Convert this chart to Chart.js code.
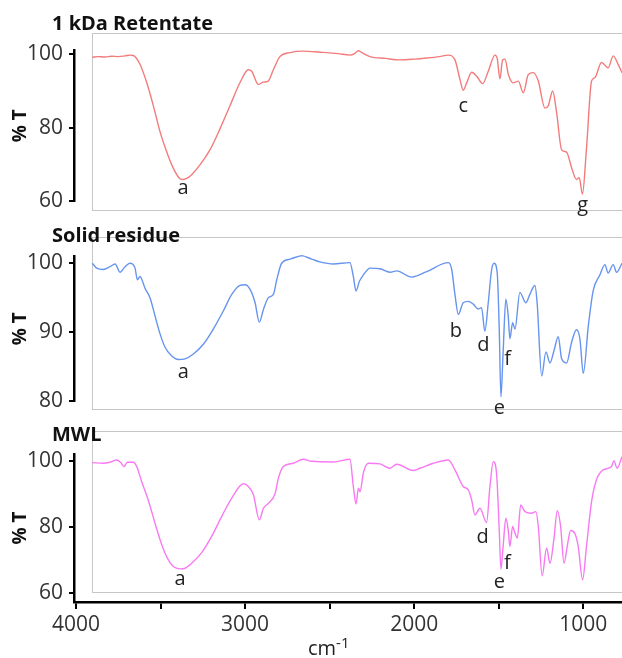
<!DOCTYPE html>
<html>
<head>
<meta charset="utf-8">
<script src="https://cdn.jsdelivr.net/npm/chart.js@4.4.1/dist/chart.umd.min.js"></script>
<style>
  html, body { margin: 0; padding: 0; background: #fff; overflow: hidden; }
  #wrap { position: relative; width: 622px; height: 658px; overflow: hidden; font-family: "Open Sans", sans-serif; }
  canvas { position: absolute; left: 0; }
  .ttl { position: absolute; left: 52px; font-weight: bold; font-size: 20px; line-height: 20px; color: #111; z-index: 2; white-space: nowrap; }
  .unit { position: absolute; left: 308px; top: 638px; font-size: 20px; line-height: 20px; color: #222; z-index: 2; }
  .unit sup { font-size: 15px; line-height: 0; vertical-align: 7px; }
</style>
</head>
<body>
<div id="wrap">
  <canvas id="c1" width="622" height="220" style="top:0"></canvas>
  <canvas id="c2" width="622" height="200" style="top:220px"></canvas>
  <canvas id="c3" width="622" height="238" style="top:420px"></canvas>
  <div class="ttl" style="top:13px">1 kDa Retentate</div>
  <div class="ttl" style="top:225px">Solid residue</div>
  <div class="ttl" style="top:424px">MWL</div>
  <div class="unit">cm<sup>-1</sup></div>
</div>
<script>
// wavenumbers (cm-1) and transmittance (%T)
const retentateWn = [3904, 3870, 3830, 3790, 3750, 3710, 3680, 3661, 3622, 3582, 3543, 3503, 3464, 3425, 3385, 3366, 3346, 3326, 3267, 3208, 3148, 3089, 3030, 2981, 2961, 2922, 2892, 2863, 2833, 2794, 2734, 2656, 2557, 2450, 2380, 2350, 2330, 2310, 2261, 2170, 2084, 2000, 1926, 1850, 1798, 1759, 1729, 1710, 1690, 1660, 1630, 1595, 1562, 1522, 1509, 1493, 1477, 1463, 1443, 1414, 1384, 1355, 1325, 1296, 1266, 1227, 1207, 1181, 1158, 1128, 1099, 1069, 1040, 1024, 1005, 981, 951, 932, 892, 853, 823, 793, 771];
const retentateT = [99.2, 99.4, 99.3, 99.5, 99.4, 99.6, 99.8, 99.7, 97.3, 92.3, 86.0, 78.8, 73.4, 68.9, 66.0, 65.8, 66.1, 66.7, 69.8, 73.9, 79.7, 86.0, 92.3, 95.8, 95.4, 91.8, 92.4, 92.7, 95.8, 99.4, 100.5, 100.9, 100.6, 100.2, 99.8, 100.3, 101.0, 100.5, 99.4, 98.9, 98.5, 98.7, 99.0, 99.4, 99.8, 98.5, 93.1, 90.2, 92.2, 95.1, 94.0, 92.0, 95.4, 99.8, 98.9, 93.3, 98.5, 98.7, 94.5, 92.2, 92.7, 89.5, 94.5, 95.0, 92.7, 85.3, 86.0, 90.0, 84.2, 73.9, 73.3, 69.0, 65.8, 66.3, 61.8, 74.3, 92.7, 93.6, 97.8, 96.3, 99.6, 97.2, 95.0];

const residueWn = [3904, 3878, 3839, 3799, 3769, 3740, 3710, 3681, 3651, 3637, 3622, 3592, 3562, 3533, 3503, 3474, 3434, 3395, 3355, 3306, 3247, 3188, 3129, 3079, 3030, 3000, 2970, 2941, 2916, 2892, 2863, 2833, 2813, 2784, 2734, 2665, 2606, 2557, 2478, 2380, 2360, 2344, 2324, 2301, 2261, 2202, 2143, 2104, 2015, 1926, 1798, 1778, 1759, 1739, 1710, 1680, 1651, 1621, 1602, 1582, 1562, 1542, 1527, 1509, 1497, 1487, 1474, 1458, 1444, 1434, 1418, 1404, 1375, 1340, 1316, 1286, 1273, 1246, 1221, 1197, 1173, 1148, 1128, 1099, 1069, 1040, 1020, 1000, 970, 941, 902, 872, 853, 823, 803, 771];
const residueT = [99.9, 99.2, 99.0, 99.4, 99.8, 98.6, 99.4, 99.9, 99.2, 97.5, 98.0, 96.3, 94.9, 92.3, 89.7, 87.8, 86.5, 86.0, 86.1, 86.8, 88.2, 90.4, 93.0, 95.4, 96.7, 96.8, 96.1, 94.2, 91.4, 93.2, 94.9, 95.4, 97.5, 99.9, 100.5, 101.0, 100.5, 100.1, 99.8, 100.0, 98.0, 95.9, 97.3, 98.2, 99.2, 99.1, 98.6, 98.8, 97.9, 98.7, 100.0, 99.0, 95.4, 92.5, 94.2, 94.4, 94.0, 93.3, 93.5, 90.1, 94.2, 99.0, 99.9, 98.5, 90.4, 80.6, 87.1, 94.7, 92.3, 89.0, 91.3, 90.4, 95.7, 94.2, 95.4, 96.7, 94.2, 83.6, 87.1, 85.5, 87.3, 89.3, 86.1, 85.5, 88.5, 90.3, 89.0, 84.0, 90.9, 96.0, 98.2, 99.7, 98.5, 99.7, 98.6, 99.9];

const mwlWn = [3904, 3839, 3799, 3759, 3736, 3716, 3697, 3661, 3641, 3612, 3573, 3533, 3493, 3454, 3425, 3385, 3355, 3316, 3257, 3198, 3139, 3079, 3010, 2981, 2951, 2916, 2892, 2863, 2823, 2803, 2774, 2715, 2656, 2606, 2478, 2380, 2360, 2344, 2330, 2320, 2301, 2271, 2202, 2143, 2104, 2005, 1966, 1887, 1798, 1759, 1710, 1680, 1660, 1641, 1611, 1572, 1552, 1532, 1513, 1497, 1487, 1474, 1458, 1444, 1434, 1418, 1404, 1390, 1370, 1345, 1305, 1280, 1266, 1243, 1217, 1197, 1173, 1154, 1134, 1114, 1095, 1075, 1049, 1030, 1004, 981, 951, 922, 882, 833, 819, 800, 771];
const mwlT = [99.4, 99.2, 99.5, 100.2, 99.4, 98.2, 99.5, 99.5, 98.2, 93.7, 88.1, 81.1, 74.6, 70.0, 68.0, 67.3, 67.5, 69.0, 72.2, 77.1, 83.1, 88.7, 93.0, 92.2, 89.7, 82.1, 85.6, 87.1, 90.0, 94.7, 98.2, 99.2, 100.4, 99.8, 99.6, 100.4, 92.2, 86.9, 91.7, 90.6, 96.2, 99.2, 99.0, 97.7, 98.9, 97.0, 97.7, 99.2, 100.2, 97.2, 92.2, 91.2, 88.1, 83.6, 85.6, 81.3, 92.2, 99.7, 96.2, 79.1, 67.2, 74.1, 82.6, 79.1, 74.1, 80.1, 78.1, 76.6, 86.6, 84.6, 84.1, 84.6, 80.1, 65.2, 73.6, 69.0, 76.6, 84.9, 80.1, 69.0, 74.1, 78.9, 77.9, 74.1, 64.0, 74.1, 87.6, 94.2, 97.2, 98.2, 100.0, 97.7, 101.2];

// tick values
const xTicks = [1000, 1500, 2000, 2500, 3000, 3500, 4000];
const retentateTicks = [60, 80, 100];
const residueTicks = [80, 90, 100];
const mwlTicks = [60, 80, 100];

// band labels: letter, wavenumber, %T where the letter sits
const retentateNoteLabels = ['a', 'c', 'g'];
const retentateNoteWn = [3367, 1710, 1004];
const retentateNoteT = [63.4, 85.9, 58.7];
const residueNoteLabels = ['a', 'b', 'd', 'f', 'e'];
const residueNoteWn = [3365, 1753, 1591, 1447, 1497];
const residueNoteT = [84.2, 90.1, 88.1, 86.0, 79.0];
const mwlNoteLabels = ['a', 'd', 'f', 'e'];
const mwlNoteWn = [3385, 1595, 1449, 1497];
const mwlNoteT = [64.2, 76.9, 69.0, 63.2];

const FONT = '"Open Sans", sans-serif';

// light grey frame around each spectrum, placed through the scales
const frameBox = {
  id: 'frameBox',
  beforeDatasetsDraw(chart, args, opts) {
    const xs = chart.scales.x, ys = chart.scales.y;
    const ctx = chart.ctx;
    const l = Math.round(xs.getPixelForValue(opts.left)) + 0.5;
    const t = Math.round(ys.getPixelForValue(opts.top)) + 0.5;
    const b = Math.round(ys.getPixelForValue(opts.bottom)) + 0.5;
    ctx.save();
    ctx.strokeStyle = '#c6c6c6';
    ctx.lineWidth = 1;
    ctx.strokeRect(l, t, chart.width - l + 10, b - t);
    ctx.restore();
  }
};

const peakNotes = {
  id: 'peakNotes',
  afterDatasetsDraw(chart, args, opts) {
    const xs = chart.scales.x, ys = chart.scales.y;
    const ctx = chart.ctx;
    ctx.save();
    ctx.font = '20px ' + FONT;
    ctx.fillStyle = '#222';
    ctx.textAlign = 'center';
    ctx.textBaseline = 'middle';
    opts.labels.forEach((lab, i) => {
      ctx.fillText(lab, xs.getPixelForValue(opts.wn[i]), ys.getPixelForValue(opts.t[i]));
    });
    ctx.restore();
  }
};

function makePanel(id, wn, t, color, yMin, yMax, yTicks, pad, frame, notes, showX) {
  const pts = wn.map((w, i) => ({ x: w, y: t[i] }));
  return new Chart(document.getElementById(id), {
    type: 'line',
    data: {
      datasets: [{
        data: pts,
        borderColor: color,
        borderWidth: 1.4,
        pointRadius: 0,
        cubicInterpolationMode: 'monotone',
        clip: false
      }]
    },
    options: {
      responsive: false,
      animation: false,
      layout: { padding: { top: pad[0], bottom: pad[1], left: 0, right: 0 } },
      plugins: {
        legend: { display: false },
        tooltip: { enabled: false },
        frameBox: frame,
        peakNotes: notes
      },
      scales: {
        x: {
          type: 'linear',
          reverse: true,
          min: 771,
          max: 4012,
          display: showX,
          afterBuildTicks: s => { s.ticks = xTicks.map(v => ({ value: v })); },
          afterFit: s => { if (showX) s.height = 56; },
          grid: { drawOnChartArea: false, color: '#000', lineWidth: 2, tickLength: 7 },
          border: { color: '#000', width: 2.5 },
          ticks: {
            autoSkip: false,
            maxRotation: 0,
            padding: 3,
            color: '#333',
            font: { family: FONT, size: 21 },
            callback: v => (v % 1000 === 0 ? String(v) : '')
          }
        },
        y: {
          min: yMin,
          max: yMax,
          afterBuildTicks: s => { s.ticks = yTicks.map(v => ({ value: v })); },
          afterFit: s => { s.width = 74; },
          grid: { drawOnChartArea: false, color: '#000', lineWidth: 2, tickLength: 5 },
          border: { color: '#000', width: 2.5 },
          ticks: { padding: 6, color: '#333', font: { family: FONT, size: 21 } },
          title: {
            display: true,
            text: '% T',
            color: '#111',
            padding: { top: 9, bottom: 0 },
            font: { family: FONT, size: 19, weight: 'bold' }
          }
        }
      }
    },
    plugins: [frameBox, peakNotes]
  });
}

makePanel('c1', retentateWn, retentateT, '#f27c7c', 59.8, 101.2, retentateTicks, [50, 16],
  { left: 3904, top: 105.77, bottom: 57.38 },
  { labels: retentateNoteLabels, wn: retentateNoteWn, t: retentateNoteT }, false);

makePanel('c2', residueWn, residueT, '#6694ee', 79.95, 100.95, residueTicks, [36, 17],
  { left: 3904, top: 103.66, bottom: 78.81 },
  { labels: residueNoteLabels, wn: residueNoteWn, t: residueNoteT }, false);

makePanel('c3', mwlWn, mwlT, '#f77af2', 57.3, 102, mwlTicks, [34, 0],
  { left: 3904, top: 108.95, bottom: 60.32 },
  { labels: mwlNoteLabels, wn: mwlNoteWn, t: mwlNoteT }, true);
</script>
</body>
</html>
